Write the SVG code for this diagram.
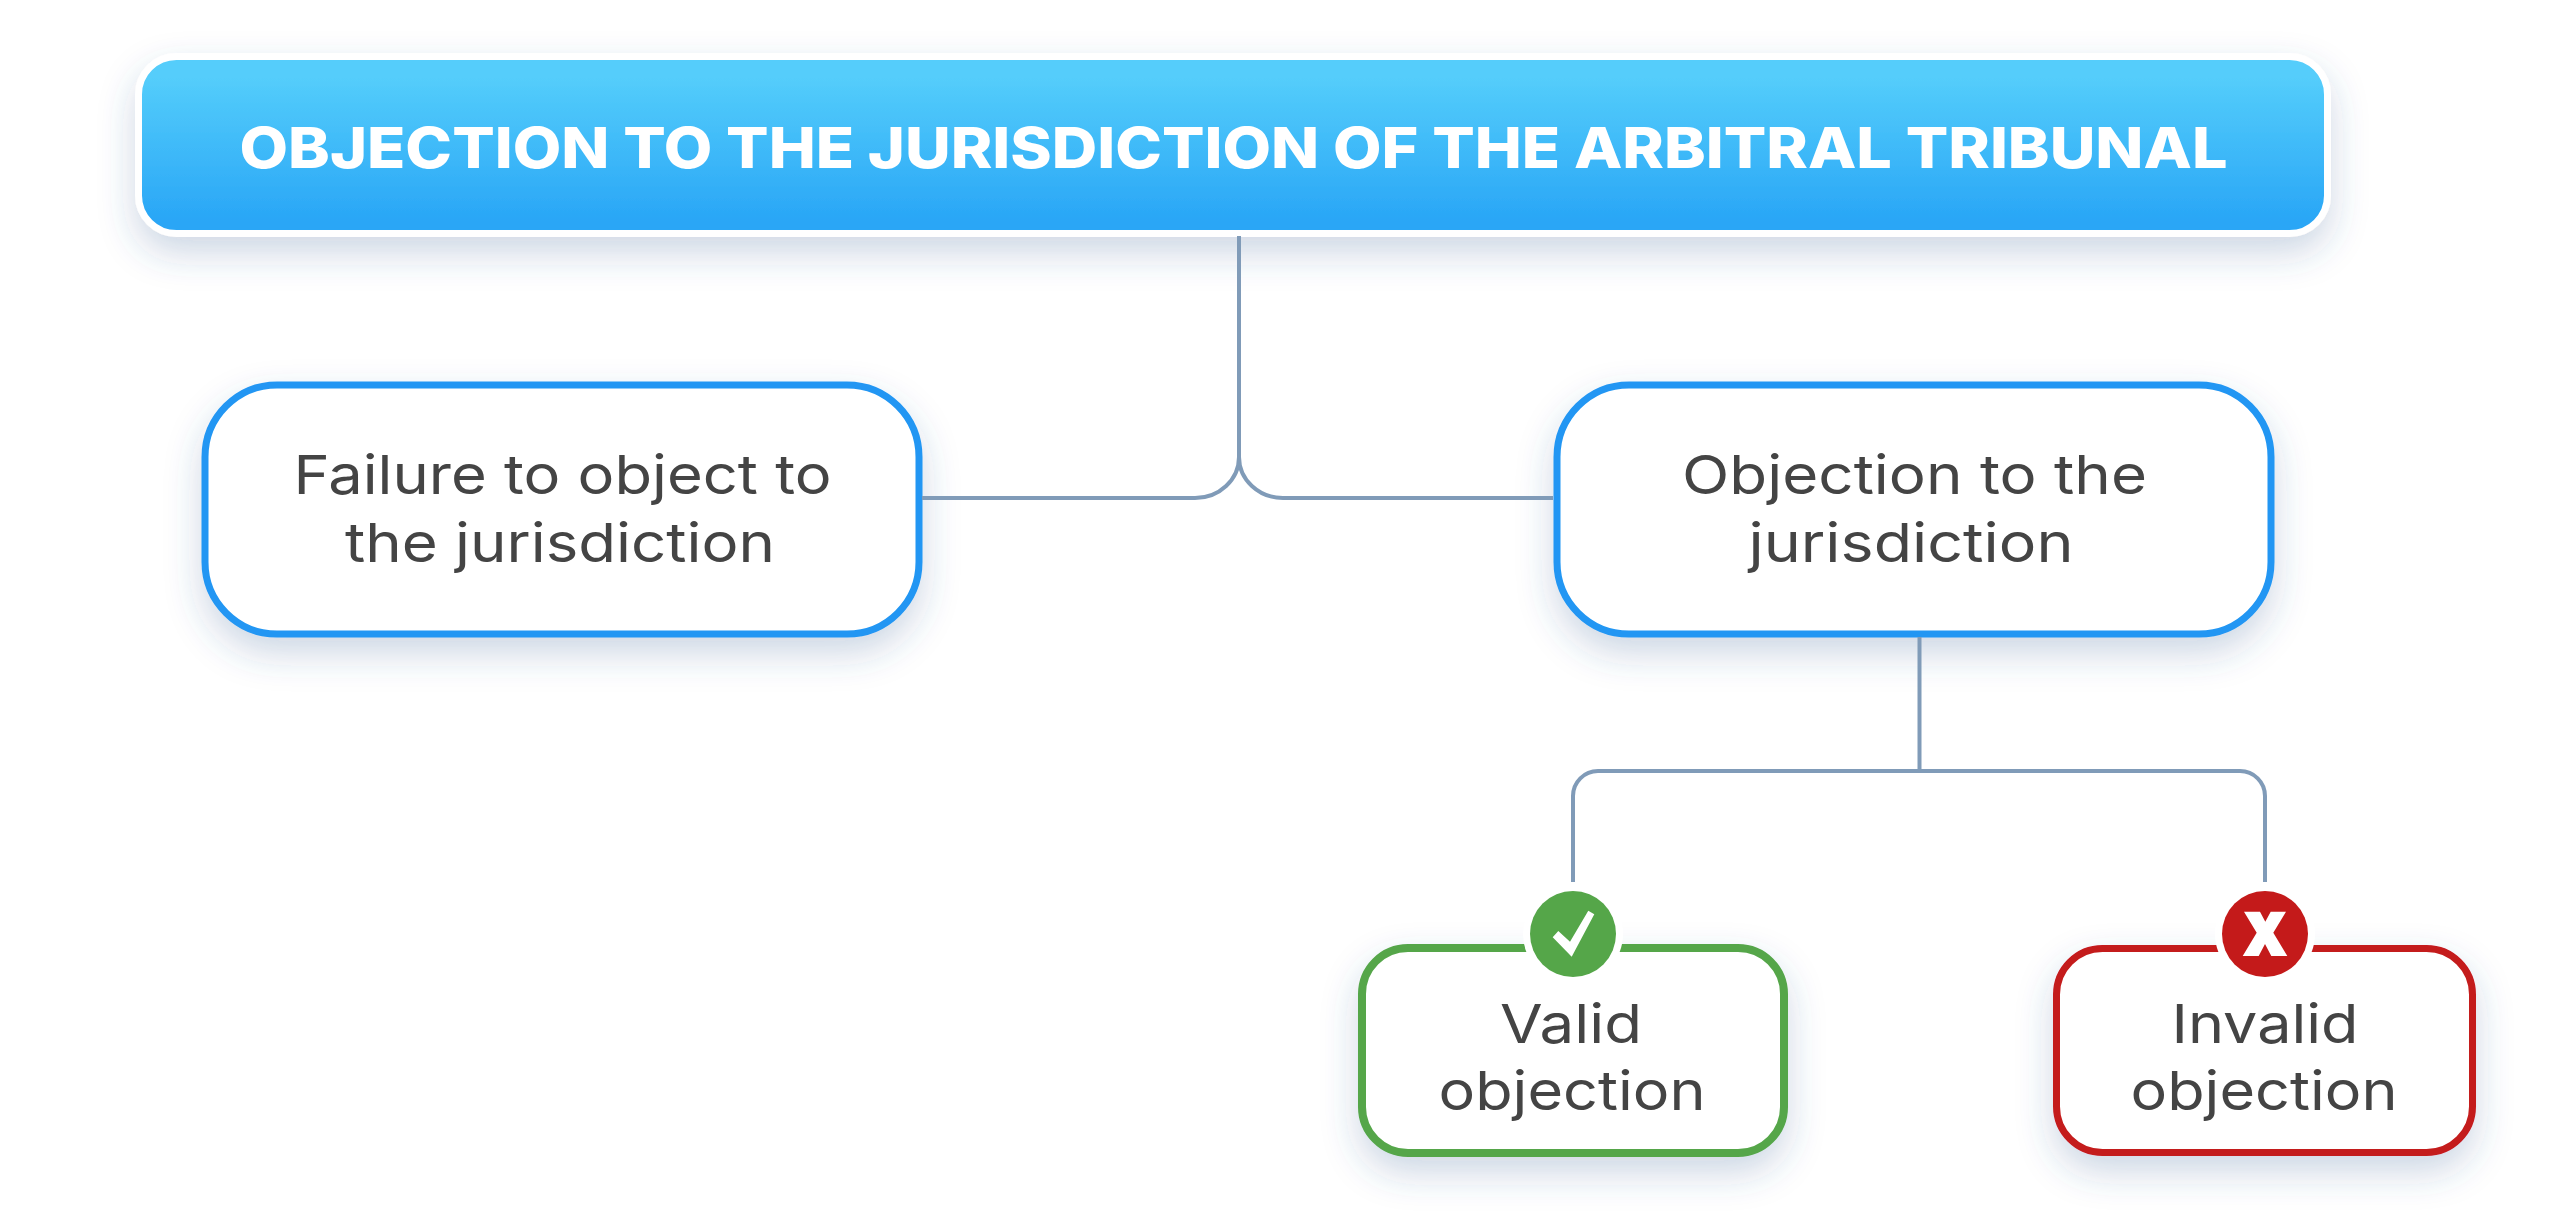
<svg xmlns="http://www.w3.org/2000/svg" width="2560" height="1224" viewBox="0 0 2560 1224">
<defs>
<linearGradient id="g" x1="0" y1="0" x2="0" y2="1"><stop offset="0.12" stop-color="#54cdfb"/><stop offset="0.93" stop-color="#29a6f6"/></linearGradient>
<filter id="s" x="-20%" y="-40%" width="140%" height="200%"><feDropShadow dx="0" dy="16" stdDeviation="18" flood-color="#2f5590" flood-opacity="0.24"/></filter>
</defs>
<style>
text{font-family:"Inter","Noto Sans","Liberation Sans",sans-serif;fill:#444;font-size:54px;text-anchor:middle}
.b{fill:#fff;stroke:#2196f3;stroke-width:7;filter:url(#s)}
.c{fill:none;stroke:#809bb8;stroke-width:4}
</style>
<rect width="2560" height="1224" fill="#fff"/>
<g id="title">
<rect x="138.500" y="56.500" width="2189" height="177" rx="38" fill="url(#g)" stroke="#fff" stroke-width="7" filter="url(#s)"/>
<text x="1233.500" y="168" style="fill:#fff;font-weight:800;font-size:57px" textLength="1988" lengthAdjust="spacingAndGlyphs">OBJECTION TO THE JURISDICTION OF THE ARBITRAL TRIBUNAL</text>
</g>
<g id="failure">
<rect class="b" x="205" y="385" width="714" height="249" rx="72"/>
<text x="562.500" y="494" textLength="538" lengthAdjust="spacingAndGlyphs">Failure to object to</text>
<text x="560" y="562" textLength="430" lengthAdjust="spacingAndGlyphs">the jurisdiction</text>
</g>
<g id="objection">
<rect class="b" x="1557" y="385" width="714" height="249" rx="72"/>
<text x="1914.500" y="494" textLength="465" lengthAdjust="spacingAndGlyphs">Objection to the</text>
<text x="1911" y="562" textLength="325" lengthAdjust="spacingAndGlyphs">jurisdiction</text>
</g>
<g id="valid">
<rect class="b" x="1362" y="948" width="422" height="205" rx="46" style="stroke:#55a649;stroke-width:8"/>
<circle cx="1573" cy="934" r="50" fill="#fff"/>
<circle cx="1573" cy="934" r="43" fill="#55a649"/>
<polygon points="1588.300,910.700 1594.300,914.300 1571.700,956.700 1552.700,937.300 1558.300,931 1570,941.700" fill="#fff"/>
<text x="1571" y="1043" textLength="142" lengthAdjust="spacingAndGlyphs">Valid</text>
<text x="1572" y="1110" textLength="267" lengthAdjust="spacingAndGlyphs">objection</text>
</g>
<g id="invalid">
<rect class="b" x="2056.500" y="948.500" width="416" height="204" rx="46" style="stroke:#c41a1a"/>
<circle cx="2265" cy="934" r="50" fill="#fff"/>
<circle cx="2265" cy="934" r="43" fill="#c41a1a"/>
<polygon points="2244,911.700 2260,911.700 2265.300,921.700 2270.700,911.700 2286,911.700 2273.300,932.700 2287.300,956 2271.300,956 2265,944 2258.700,956 2242.700,956 2256.700,932.700" fill="#fff"/>
<text x="2265" y="1043" textLength="187" lengthAdjust="spacingAndGlyphs">Invalid</text>
<text x="2264" y="1110" textLength="267" lengthAdjust="spacingAndGlyphs">objection</text>
</g>
<g id="connectors" class="c">
<path d="M1239 236V457"/>
<path d="M922 498H1195A44 41 0 0 0 1239 457A44 41 0 0 0 1283 498H1553"/>
<path d="M1919.500 637V771"/>
<path d="M1573 882V796A25 25 0 0 1 1598 771H2240A25 25 0 0 1 2265 796V882"/>
</g>
</svg>
